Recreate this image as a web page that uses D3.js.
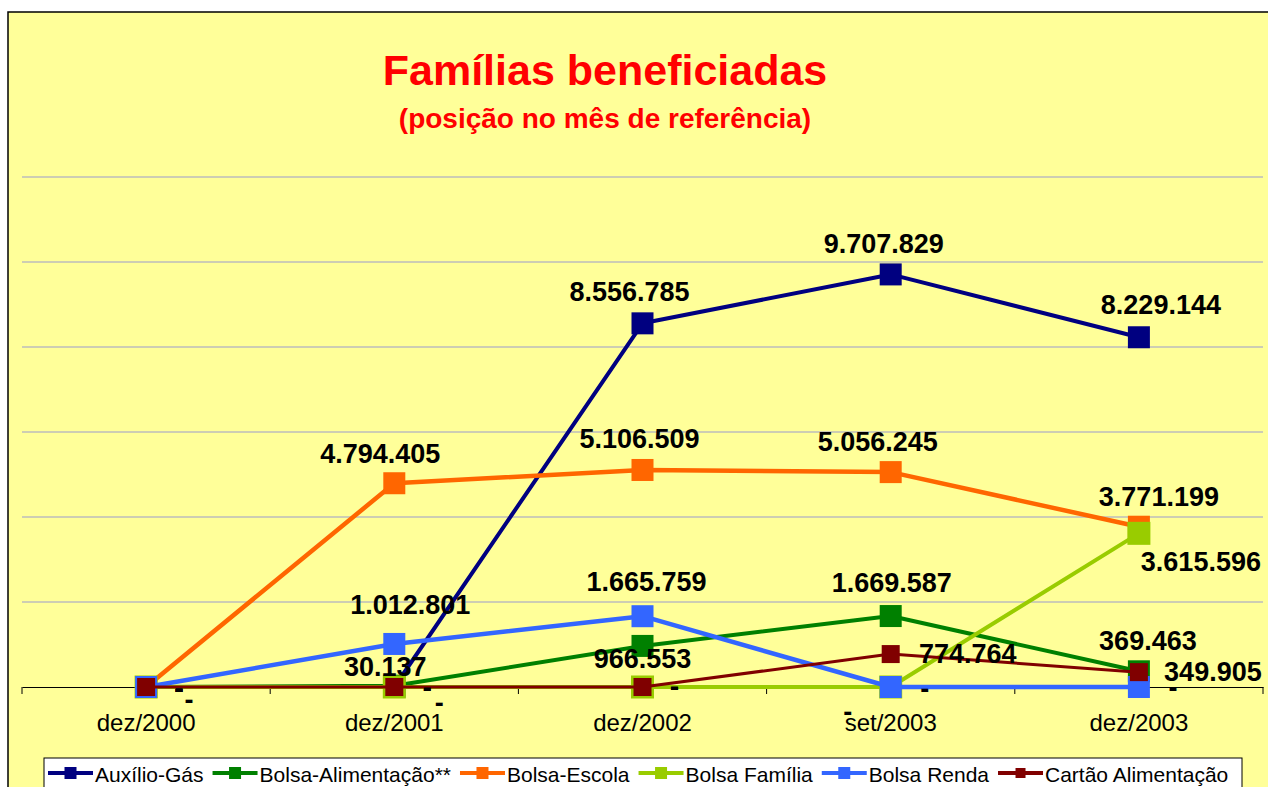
<!DOCTYPE html>
<html>
<head>
<meta charset="utf-8">
<script src="https://cdn.jsdelivr.net/npm/d3@7"></script>
<style>
  body { margin: 0; background: #fff; }
  svg { display: block; font-family: Arial, "Liberation Sans", sans-serif; }
</style>
</head>
<body>
<script>
// categories and series
var categories = ["dez/2000", "dez/2001", "dez/2002", "set/2003", "dez/2003"];
var seriesNames = ["Auxílio-Gás", "Bolsa-Alimentação**", "Bolsa-Escola", "Bolsa Família", "Bolsa Renda", "Cartão Alimentação"];

var auxilioGas        = [0, 0, 8556785, 9707829, 8229144];
var bolsaAlimentacao  = [0, 30137, 966553, 1669587, 369463];
var bolsaEscola       = [0, 4794405, 5106509, 5056245, 3771199];
var bolsaFamilia      = [0, 0, 0, 0, 3615596];
var bolsaRenda        = [0, 1012801, 1665759, 0, 0];
var cartaoAlimentacao = [0, 0, 0, 774764, 349905];

var gridValues = [2e6, 4e6, 6e6, 8e6, 10e6, 12e6];

// look of each series
var seriesColors = ["#000080", "#008000", "#FF6600", "#99CC00", "#3366FF", "#800000"];
var lineWidths = [4, 4, 4.5, 4, 4.5, 3];
var markerSizes = [22, 22, 22, 23, 22, 18];

// data label offsets from the marker centre [dx, dy to baseline]
var labelOffsets = [
  [[33, 11], [33, 10], [-13, -22], [-7, -21], [22, -23]],
  [[33, 11], [-9, -10], [0, 22], [1, -24], [9, -21]],
  [[33, 11], [-14, -20], [-3, -22], [-13, -21], [20, -21]],
  [[43, 22], [45, 25], [32, 9], [-43, 34], [62, 38]],
  [[33, 11], [16, -30], [4, -25], [34, 11], [34, 10]],
  [[33, 11], [33, 10], [32, 9], [77, 9], [74, 9]]
];

var seriesValues = [auxilioGas, bolsaAlimentacao, bolsaEscola, bolsaFamilia, bolsaRenda, cartaoAlimentacao];
var series = seriesNames.map(function(name, i) {
  return {name: name, values: seriesValues[i], color: seriesColors[i],
          width: lineWidths[i], size: markerSizes[i], offsets: labelOffsets[i]};
});

var width = 1268, height = 787;
var plotLeft = 22, plotRight = 1263, plotTop = 177, plotBottom = 687;

var ptBR = d3.formatLocale({decimal: ",", thousands: ".", grouping: [3], currency: ["R$", ""]});
var fmt = ptBR.format(",d");
function labelText(v) { return v === 0 ? "-" : fmt(v); }

var svg = d3.select("body").append("svg")
    .attr("width", width)
    .attr("height", height);

// chart area
svg.append("rect")
    .attr("x", 8).attr("y", 12)
    .attr("width", 1280).attr("height", 800)
    .attr("fill", "#FFFF99")
    .attr("stroke", "#000")
    .attr("stroke-width", 1.5);

// title
svg.append("text")
    .attr("x", 605).attr("y", 85)
    .attr("text-anchor", "middle")
    .attr("font-size", 43).attr("font-weight", "bold")
    .attr("fill", "#FF0000")
    .text("Famílias beneficiadas");
svg.append("text")
    .attr("x", 605).attr("y", 128)
    .attr("text-anchor", "middle")
    .attr("font-size", 28).attr("font-weight", "bold")
    .attr("fill", "#FF0000")
    .text("(posição no mês de referência)");

var x = d3.scaleBand().domain(categories).range([plotLeft, plotRight]);
var y = d3.scaleLinear().domain([0, 12e6]).range([plotBottom, plotTop]);
function cx(i) { return x(categories[i]) + x.bandwidth() / 2; }

// gridlines
svg.append("g").selectAll("line")
    .data(gridValues)
  .enter().append("line")
    .attr("x1", plotLeft).attr("x2", plotRight)
    .attr("y1", function(d) { return y(d); })
    .attr("y2", function(d) { return y(d); })
    .attr("stroke", "#BDBDBD")
    .attr("stroke-width", 1.5);

// category axis
var axis = svg.append("g")
    .attr("transform", "translate(0," + plotBottom + ")")
    .call(d3.axisBottom(x).tickSize(0).tickPadding(27));
axis.attr("font-family", null);
axis.select(".domain").attr("stroke", "#000").attr("stroke-width", 1);
axis.selectAll(".tick text")
    .attr("font-size", 24)
    .attr("fill", "#000");

// tick marks sit between the categories
axis.selectAll("line.sep")
    .data(d3.range(categories.length + 1))
  .enter().append("line")
    .attr("class", "sep")
    .attr("x1", function(i) { return plotLeft + i * x.step(); })
    .attr("x2", function(i) { return plotLeft + i * x.step(); })
    .attr("y1", 0).attr("y2", 7)
    .attr("stroke", "#000");

// lines + markers, series by series
var line = d3.line()
    .x(function(d, i) { return cx(i); })
    .y(function(d) { return y(d); });

var sg = svg.selectAll("g.series")
    .data(series)
  .enter().append("g")
    .attr("class", "series");

sg.append("path")
    .attr("d", function(s) { return line(s.values); })
    .attr("fill", "none")
    .attr("stroke", function(s) { return s.color; })
    .attr("stroke-width", function(s) { return s.width; })
    .attr("stroke-linejoin", "round");

sg.each(function(s) {
  d3.select(this).selectAll("rect")
      .data(s.values)
    .enter().append("rect")
      .attr("x", function(d, i) { return cx(i) - s.size / 2; })
      .attr("y", function(d) { return y(d) - s.size / 2; })
      .attr("width", s.size)
      .attr("height", s.size)
      .attr("fill", s.color);
});

// data labels on top
sg.each(function(s) {
  d3.select(this.parentNode).append("g").selectAll("text")
      .data(s.values)
    .enter().append("text")
      .attr("x", function(d, i) { return cx(i) + s.offsets[i][0]; })
      .attr("y", function(d, i) { return y(d) + s.offsets[i][1]; })
      .attr("text-anchor", "middle")
      .attr("font-size", 27)
      .attr("font-weight", "bold")
      .attr("fill", "#000")
      .text(labelText);
});

// legend
var legend = svg.append("g");
legend.append("rect")
    .attr("x", 44).attr("y", 758)
    .attr("width", 1198).attr("height", 40)
    .attr("fill", "#fff")
    .attr("stroke", "#000")
    .attr("stroke-width", 1);

var lx = 48;
series.forEach(function(s) {
  var item = legend.append("g").attr("transform", "translate(" + lx + ",773)");
  item.append("line")
      .attr("x1", 0).attr("x2", 45)
      .attr("stroke", s.color)
      .attr("stroke-width", 4);
  var ms = s.size > 20 ? 12 : 10;
  item.append("rect")
      .attr("x", 22.5 - ms / 2).attr("y", -ms / 2)
      .attr("width", ms).attr("height", ms)
      .attr("fill", s.color);
  var t = item.append("text")
      .attr("x", 47).attr("y", 9)
      .attr("font-size", 21)
      .attr("fill", "#000")
      .text(s.name);
  lx += 47 + t.node().getComputedTextLength() + 9;
});
</script>
</body>
</html>
